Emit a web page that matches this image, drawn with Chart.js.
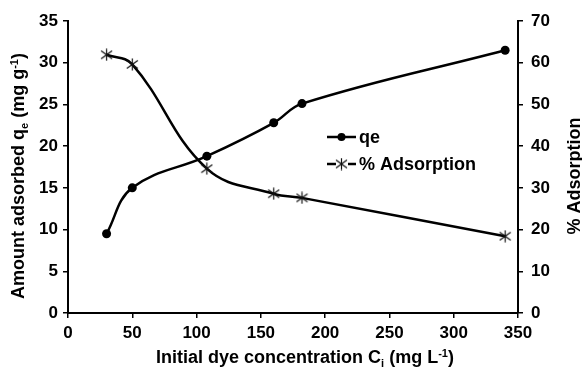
<!DOCTYPE html>
<html>
<head>
<meta charset="utf-8">
<script src="https://cdn.jsdelivr.net/npm/chart.js@4.4.0/dist/chart.umd.min.js"></script>
<style>
  html, body { margin: 0; padding: 0; background: #fff; }
  #wrap { width: 582px; height: 367px; position: relative; }
</style>
</head>
<body>
<div id="wrap"><canvas id="c" width="582" height="367"></canvas></div>
<script>
// Initial dye concentration (mg/L)
const concentrations = [30, 50, 108, 160, 182, 340];
// Amount adsorbed at equilibrium, qe (mg/g)
const qeValues = [9.5, 15.0, 18.8, 22.8, 25.1, 31.5];
// Removal efficiency (%)
const adsorptionPct = [61.9, 59.6, 34.6, 28.6, 27.6, 18.4];

// Axis ranges and tick steps
const xRange = [0, 350], xStep = 50;
const qeRange = [0, 35], qeStep = 5;
const pctRange = [0, 70], pctStep = 10;

const seriesNames = ['qe', '% Adsorption'];

const FONT = "'Liberation Sans', Arial, sans-serif";
const TICK_FONT = { family: FONT, size: 17, weight: 'bold' };
const TITLE_SIZE = 18;

// asterisk-like marker: an X with a vertical bar
function makeStar(size, color) {
  const cv = document.createElement('canvas');
  cv.width = size; cv.height = size;
  const g = cv.getContext('2d');
  g.strokeStyle = color; g.lineWidth = 1.2;
  const m = size / 2;
  g.beginPath();
  g.moveTo(m, 0.5); g.lineTo(m, size - 0.5);
  g.moveTo(1, 2.5); g.lineTo(size - 1, size - 2.5);
  g.moveTo(1, size - 2.5); g.lineTo(size - 1, 2.5);
  g.stroke();
  return cv;
}
const starMarker = makeStar(13, '#111');

// draws text made of plain / subscript / superscript runs, centred at (x, y)
function drawRich(ctx, parts, x, y, rotation) {
  const base = TITLE_SIZE, small = Math.round(TITLE_SIZE * 0.62);
  ctx.save();
  ctx.translate(x, y);
  ctx.rotate(rotation);
  ctx.fillStyle = '#000';
  ctx.textBaseline = 'alphabetic';
  ctx.textAlign = 'left';
  let total = 0;
  const widths = parts.map(p => {
    ctx.font = 'bold ' + (p.sub || p.sup ? small : base) + 'px ' + FONT;
    const w = ctx.measureText(p.t).width;
    total += w;
    return w;
  });
  let cx = -total / 2;
  const baseY = base * 0.36;
  parts.forEach((p, i) => {
    ctx.font = 'bold ' + (p.sub || p.sup ? small : base) + 'px ' + FONT;
    let dy = 0;
    if (p.sub) dy = base * 0.2;
    if (p.sup) dy = -base * 0.38;
    ctx.fillText(p.t, cx, baseY + dy);
    cx += widths[i];
  });
  ctx.restore();
}

const titlesAndLegend = {
  id: 'titlesAndLegend',
  afterDraw(chart) {
    const ctx = chart.ctx;
    drawRich(ctx, [
      { t: 'Amount adsorbed q' }, { t: 'e', sub: true },
      { t: ' (mg g' }, { t: '-1', sup: true }, { t: ')' }
    ], 18, 176, -Math.PI / 2);
    drawRich(ctx, [{ t: '% Adsorption' }], 574, 176, -Math.PI / 2);
    drawRich(ctx, [
      { t: 'Initial dye concentration C' }, { t: 'i', sub: true },
      { t: ' (mg L' }, { t: '-1', sup: true }, { t: ')' }
    ], 305, 357, 0);

    // legend
    const lx0 = 327, lx1 = 356, tx = 359;
    const rows = [137, 164];
    ctx.save();
    ctx.strokeStyle = '#000';
    ctx.lineWidth = 2.5;
    rows.forEach(y => {
      ctx.beginPath(); ctx.moveTo(lx0, y); ctx.lineTo(lx1, y); ctx.stroke();
    });
    ctx.fillStyle = '#000';
    ctx.beginPath(); ctx.arc(341.5, rows[0], 4, 0, Math.PI * 2); ctx.fill();
    ctx.fillStyle = '#fff';
    ctx.fillRect(336, rows[1] - 6, 12, 12);
    ctx.drawImage(starMarker, 341.5 - 6.5, rows[1] - 6.5);
    ctx.fillStyle = '#000';
    ctx.font = 'bold ' + TITLE_SIZE + 'px ' + FONT;
    ctx.textBaseline = 'middle';
    ctx.textAlign = 'left';
    ctx.fillText(seriesNames[0], tx, rows[0] + 1);
    ctx.fillText(seriesNames[1], tx, rows[1] + 1);
    ctx.restore();
  }
};

const axisCommon = {
  border: { display: true, color: '#000', width: 2 },
  grid: { drawOnChartArea: false, drawTicks: true, tickLength: 5, color: '#000', lineWidth: 1.5 },
};

new Chart(document.getElementById('c'), {
  type: 'line',
  data: {
    datasets: [
      {
        label: seriesNames[0],
        data: concentrations.map((c, i) => ({ x: c, y: qeValues[i] })),
        yAxisID: 'y',
        borderColor: '#000',
        backgroundColor: '#000',
        borderWidth: 2.5,
        pointStyle: 'circle',
        pointRadius: 4.5,
        pointBorderWidth: 0,
        tension: 0.4,
        fill: false
      },
      {
        label: seriesNames[1],
        data: concentrations.map((c, i) => ({ x: c, y: adsorptionPct[i] })),
        yAxisID: 'y1',
        borderColor: '#000',
        backgroundColor: '#000',
        borderWidth: 2.5,
        pointStyle: starMarker,
        pointRadius: 7,
        tension: 0.4,
        fill: false
      }
    ]
  },
  options: {
    responsive: false,
    animation: false,
    devicePixelRatio: 1,
    layout: { padding: { top: 21, left: 0, right: 0, bottom: 0 } },
    plugins: { legend: { display: false }, tooltip: { enabled: false } },
    scales: {
      x: {
        ...axisCommon,
        type: 'linear',
        min: xRange[0], max: xRange[1],
        ticks: { stepSize: xStep, color: '#000', font: TICK_FONT, padding: 5, maxRotation: 0 },
        afterFit(s) { s.height = 54; }
      },
      y: {
        ...axisCommon,
        position: 'left',
        min: qeRange[0], max: qeRange[1],
        ticks: { stepSize: qeStep, color: '#000', font: TICK_FONT, padding: 5 },
        afterFit(s) { s.width = 68; }
      },
      y1: {
        ...axisCommon,
        position: 'right',
        min: pctRange[0], max: pctRange[1],
        ticks: { stepSize: pctStep, color: '#000', font: TICK_FONT, padding: 8 },
        afterFit(s) { s.width = 64; }
      }
    }
  },
  plugins: [titlesAndLegend]
});
</script>
</body>
</html>
